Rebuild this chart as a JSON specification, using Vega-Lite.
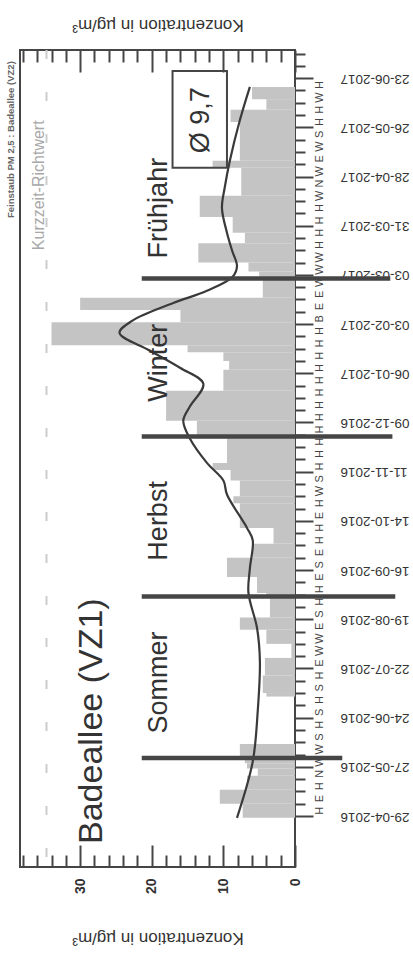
{
  "$schema": "https://vega.github.io/schema/vega-lite/v6.json",
  "width": 275,
  "height": 817,
  "autosize": {"type": "none"},
  "padding": {"left": 20, "top": 50, "right": 118, "bottom": 99},
  "background": "white",
  "config": {
    "font": "Liberation Sans",
    "view": {"stroke": "#454545", "strokeWidth": 2},
    "axis": {"domain": false, "grid": false, "tickColor": "#454545", "tickWidth": 2, "labelColor": "#333333", "titleColor": "#333333"}
  },
  "resolve": {"axis": {"x": "independent", "y": "independent"}},
  "layer": [
    {
      "data": {"values": [{"d": "2016-03-31", "v": 34.7}, {"d": "2017-07-09", "v": 34.7}]},
      "mark": {"type": "line", "color": "#cccccc", "strokeWidth": 2, "strokeDash": [9, 33]},
      "encoding": {
        "x": {"field": "v", "type": "quantitative", "scale": {"domain": [0, 38.4], "reverse": true, "nice": false, "zero": false}, "axis": null},
        "y": {"field": "d", "type": "temporal", "scale": {"domain": [{"year": 2016, "month": 3, "date": 31, "utc": true}, {"year": 2017, "month": 7, "date": 9, "utc": true}], "nice": false}, "axis": null}
      }
    },
    {
      "data": {"values": [
        {"d": "2016-04-28", "e": "2016-05-06", "v": 7.3},
        {"d": "2016-05-06", "e": "2016-05-14", "v": 10.5},
        {"d": "2016-05-14", "e": "2016-05-22", "v": 6.7},
        {"d": "2016-05-22", "e": "2016-05-26", "v": 5.2},
        {"d": "2016-05-26", "e": "2016-05-29", "v": 6.7},
        {"d": "2016-05-29", "e": "2016-06-01", "v": 7},
        {"d": "2016-06-01", "e": "2016-06-09", "v": 7.7},
        {"d": "2016-07-06", "e": "2016-07-08", "v": 4},
        {"d": "2016-07-08", "e": "2016-07-18", "v": 4.5},
        {"d": "2016-07-18", "e": "2016-07-28", "v": 4.2},
        {"d": "2016-07-28", "e": "2016-08-05", "v": 0.5},
        {"d": "2016-08-05", "e": "2016-08-13", "v": 4},
        {"d": "2016-08-13", "e": "2016-08-20", "v": 7.7},
        {"d": "2016-08-20", "e": "2016-09-01", "v": 3.5},
        {"d": "2016-09-01", "e": "2016-09-03", "v": 4},
        {"d": "2016-09-03", "e": "2016-09-12", "v": 5.3},
        {"d": "2016-09-12", "e": "2016-09-23", "v": 9.5},
        {"d": "2016-09-23", "e": "2016-10-01", "v": 5.9},
        {"d": "2016-10-01", "e": "2016-10-10", "v": 3},
        {"d": "2016-10-10", "e": "2016-10-24", "v": 7.7},
        {"d": "2016-10-24", "e": "2016-10-28", "v": 8.6},
        {"d": "2016-10-28", "e": "2016-11-06", "v": 7.7},
        {"d": "2016-11-06", "e": "2016-11-12", "v": 9},
        {"d": "2016-11-12", "e": "2016-11-16", "v": 11.5},
        {"d": "2016-11-16", "e": "2016-11-30", "v": 9.5},
        {"d": "2016-11-30", "e": "2016-12-10", "v": 13.7},
        {"d": "2016-12-10", "e": "2016-12-27", "v": 18},
        {"d": "2016-12-27", "e": "2017-01-08", "v": 10},
        {"d": "2017-01-08", "e": "2017-01-13", "v": 9.2},
        {"d": "2017-01-13", "e": "2017-01-18", "v": 10},
        {"d": "2017-01-18", "e": "2017-01-22", "v": 15},
        {"d": "2017-01-22", "e": "2017-02-04", "v": 34},
        {"d": "2017-02-04", "e": "2017-02-11", "v": 16},
        {"d": "2017-02-11", "e": "2017-02-18", "v": 30},
        {"d": "2017-02-18", "e": "2017-03-02", "v": 4.5},
        {"d": "2017-03-02", "e": "2017-03-05", "v": 5},
        {"d": "2017-03-05", "e": "2017-03-10", "v": 6.5},
        {"d": "2017-03-10", "e": "2017-03-21", "v": 13.5},
        {"d": "2017-03-21", "e": "2017-03-27", "v": 7},
        {"d": "2017-03-27", "e": "2017-04-05", "v": 8.7},
        {"d": "2017-04-05", "e": "2017-04-17", "v": 13.3},
        {"d": "2017-04-17", "e": "2017-05-03", "v": 7.5},
        {"d": "2017-05-03", "e": "2017-05-07", "v": 11.5},
        {"d": "2017-05-07", "e": "2017-05-29", "v": 7.7},
        {"d": "2017-05-29", "e": "2017-06-05", "v": 9},
        {"d": "2017-06-05", "e": "2017-06-11", "v": 4},
        {"d": "2017-06-11", "e": "2017-06-18", "v": 6}
      ]},
      "mark": {"type": "rect", "color": "#c4c4c4"},
      "encoding": {
        "x": {"field": "v", "type": "quantitative", "scale": {"domain": [0, 38.4], "reverse": true, "nice": false, "zero": false},
          "axis": {
            "orient": "bottom",
            "values": [0, 2, 4, 6, 8, 10, 12, 14, 16, 18, 20, 22, 24, 26, 28, 30, 32, 34, 36, 38],
            "labelExpr": "datum.value % 10 === 0 ? datum.label : ''",
            "tickSize": {"condition": {"test": "datum.value % 10 === 0", "value": -22}, "value": -12},
            "labelAngle": 270, "labelAlign": "right", "labelBaseline": "middle",
            "labelPadding": 33, "labelFontSize": 14, "labelFontWeight": "bold", "labelOverlap": false,
            "title": "Konzentration in µg/m³", "titleAngle": 180, "titleBaseline": "bottom",
            "titlePadding": 35, "titleFontSize": 17, "titleFontWeight": "normal"
          }
        },
        "x2": {"datum": 0},
        "y": {"field": "d", "type": "temporal", "scale": {"domain": [{"year": 2016, "month": 3, "date": 31, "utc": true}, {"year": 2017, "month": 7, "date": 9, "utc": true}], "nice": false},
          "axis": {
            "orient": "right",
            "values": [
              {"year": 2016, "month": 4, "date": 29, "utc": true}, {"year": 2016, "month": 5, "date": 6, "utc": true}, {"year": 2016, "month": 5, "date": 13, "utc": true}, {"year": 2016, "month": 5, "date": 20, "utc": true},
              {"year": 2016, "month": 5, "date": 27, "utc": true}, {"year": 2016, "month": 6, "date": 3, "utc": true}, {"year": 2016, "month": 6, "date": 10, "utc": true}, {"year": 2016, "month": 6, "date": 17, "utc": true},
              {"year": 2016, "month": 6, "date": 24, "utc": true}, {"year": 2016, "month": 7, "date": 1, "utc": true}, {"year": 2016, "month": 7, "date": 8, "utc": true}, {"year": 2016, "month": 7, "date": 15, "utc": true},
              {"year": 2016, "month": 7, "date": 22, "utc": true}, {"year": 2016, "month": 7, "date": 29, "utc": true}, {"year": 2016, "month": 8, "date": 5, "utc": true}, {"year": 2016, "month": 8, "date": 12, "utc": true},
              {"year": 2016, "month": 8, "date": 19, "utc": true}, {"year": 2016, "month": 8, "date": 26, "utc": true}, {"year": 2016, "month": 9, "date": 2, "utc": true}, {"year": 2016, "month": 9, "date": 9, "utc": true},
              {"year": 2016, "month": 9, "date": 16, "utc": true}, {"year": 2016, "month": 9, "date": 23, "utc": true}, {"year": 2016, "month": 9, "date": 30, "utc": true}, {"year": 2016, "month": 10, "date": 7, "utc": true},
              {"year": 2016, "month": 10, "date": 14, "utc": true}, {"year": 2016, "month": 10, "date": 21, "utc": true}, {"year": 2016, "month": 10, "date": 28, "utc": true}, {"year": 2016, "month": 11, "date": 4, "utc": true},
              {"year": 2016, "month": 11, "date": 11, "utc": true}, {"year": 2016, "month": 11, "date": 18, "utc": true}, {"year": 2016, "month": 11, "date": 25, "utc": true}, {"year": 2016, "month": 12, "date": 2, "utc": true},
              {"year": 2016, "month": 12, "date": 9, "utc": true}, {"year": 2016, "month": 12, "date": 16, "utc": true}, {"year": 2016, "month": 12, "date": 23, "utc": true}, {"year": 2016, "month": 12, "date": 30, "utc": true},
              {"year": 2017, "month": 1, "date": 6, "utc": true}, {"year": 2017, "month": 1, "date": 13, "utc": true}, {"year": 2017, "month": 1, "date": 20, "utc": true}, {"year": 2017, "month": 1, "date": 27, "utc": true},
              {"year": 2017, "month": 2, "date": 3, "utc": true}, {"year": 2017, "month": 2, "date": 10, "utc": true}, {"year": 2017, "month": 2, "date": 17, "utc": true}, {"year": 2017, "month": 2, "date": 24, "utc": true},
              {"year": 2017, "month": 3, "date": 3, "utc": true}, {"year": 2017, "month": 3, "date": 10, "utc": true}, {"year": 2017, "month": 3, "date": 17, "utc": true}, {"year": 2017, "month": 3, "date": 24, "utc": true},
              {"year": 2017, "month": 3, "date": 31, "utc": true}, {"year": 2017, "month": 4, "date": 7, "utc": true}, {"year": 2017, "month": 4, "date": 14, "utc": true}, {"year": 2017, "month": 4, "date": 21, "utc": true},
              {"year": 2017, "month": 4, "date": 28, "utc": true}, {"year": 2017, "month": 5, "date": 5, "utc": true}, {"year": 2017, "month": 5, "date": 12, "utc": true}, {"year": 2017, "month": 5, "date": 19, "utc": true},
              {"year": 2017, "month": 5, "date": 26, "utc": true}, {"year": 2017, "month": 6, "date": 2, "utc": true}, {"year": 2017, "month": 6, "date": 9, "utc": true}, {"year": 2017, "month": 6, "date": 16, "utc": true},
              {"year": 2017, "month": 6, "date": 23, "utc": true}, {"year": 2017, "month": 6, "date": 30, "utc": true}, {"year": 2017, "month": 7, "date": 7, "utc": true}
            ],
            "labelExpr": "round((datum.value - utc(2016,3,29)) / 604800000) % 4 === 0 ? utcFormat(datum.value, '%d-%m-%Y') : ''",
            "tickSize": {"condition": {"test": "round((datum.value - utc(2016,3,29)) / 604800000) % 4 === 0", "value": 18}, "value": 10},
            "labelAngle": 180, "labelAlign": "right", "labelBaseline": "middle",
            "labelPadding": 27, "labelFontSize": 13.5, "labelOverlap": false, "labelBound": false,
            "title": null
          }
        },
        "y2": {"field": "e"}
      }
    },
    {
      "data": {"values": [
        {"d": "2016-04-28", "v": 8.1}, {"d": "2016-05-30", "v": 5.9}, {"d": "2016-06-28", "v": 5.2}, {"d": "2016-07-26", "v": 4.9},
        {"d": "2016-08-14", "v": 5.3}, {"d": "2016-09-03", "v": 6.5}, {"d": "2016-09-17", "v": 6.3}, {"d": "2016-10-03", "v": 5.9},
        {"d": "2016-10-10", "v": 6.7}, {"d": "2016-10-29", "v": 9.5}, {"d": "2016-11-06", "v": 10}, {"d": "2016-11-16", "v": 12.3},
        {"d": "2016-11-30", "v": 14.7}, {"d": "2016-12-10", "v": 15.6}, {"d": "2016-12-18", "v": 14.7}, {"d": "2016-12-31", "v": 12.8},
        {"d": "2017-01-09", "v": 16}, {"d": "2017-01-19", "v": 20.3}, {"d": "2017-01-29", "v": 24.5}, {"d": "2017-02-05", "v": 22.7},
        {"d": "2017-02-15", "v": 17}, {"d": "2017-02-22", "v": 12.3}, {"d": "2017-03-02", "v": 8.7}, {"d": "2017-03-08", "v": 8.1},
        {"d": "2017-03-17", "v": 8.8}, {"d": "2017-03-27", "v": 9.5}, {"d": "2017-04-10", "v": 10.2}, {"d": "2017-04-22", "v": 9.8},
        {"d": "2017-05-07", "v": 9.1}, {"d": "2017-05-30", "v": 7.7}, {"d": "2017-06-18", "v": 6.3}
      ]},
      "mark": {"type": "line", "color": "#3a3a3a", "strokeWidth": 2.2, "interpolate": "catmull-rom"},
      "encoding": {
        "x": {"field": "v", "type": "quantitative", "scale": {"domain": [0, 38.4], "reverse": true, "nice": false, "zero": false},
          "axis": {
            "orient": "top",
            "values": [0, 2, 4, 6, 8, 10, 12, 14, 16, 18, 20, 22, 24, 26, 28, 30, 32, 34, 36, 38],
            "labels": false,
            "tickSize": {"condition": {"test": "datum.value % 10 === 0", "value": -22}, "value": -12},
            "title": "Konzentration in µg/m³", "titleAngle": 180, "titleBaseline": "top",
            "titlePadding": 17, "titleFontSize": 17, "titleFontWeight": "normal"
          }
        },
        "y": {"field": "d", "type": "temporal", "scale": {"domain": [{"year": 2016, "month": 3, "date": 31, "utc": true}, {"year": 2017, "month": 7, "date": 9, "utc": true}], "nice": false}, "axis": null},
        "order": {"field": "d", "type": "temporal"}
      }
    },
    {
      "data": {"values": [
        {"d": "2016-06-01", "v": 21.4, "b": -6.6},
        {"d": "2016-09-01", "v": 21.4, "b": -14},
        {"d": "2016-12-01", "v": 21.4, "b": -13.6},
        {"d": "2017-03-01", "v": 21.4, "b": -13.3}
      ]},
      "mark": {"type": "rule", "color": "#454545", "strokeWidth": 4.5},
      "encoding": {
        "x": {"field": "v", "type": "quantitative", "scale": {"domain": [0, 38.4], "reverse": true, "nice": false, "zero": false}, "axis": null},
        "x2": {"field": "b"},
        "y": {"field": "d", "type": "temporal", "scale": {"domain": [{"year": 2016, "month": 3, "date": 31, "utc": true}, {"year": 2017, "month": 7, "date": 9, "utc": true}], "nice": false}, "axis": null}
      }
    },
    {
      "data": {"values": [{"d": "2017-05-03", "e": "2017-06-27", "v": 17.1, "w": 9.5}]},
      "mark": {"type": "rect", "fillOpacity": 0, "stroke": "#454545", "strokeWidth": 2},
      "encoding": {
        "x": {"field": "v", "type": "quantitative", "scale": {"domain": [0, 38.4], "reverse": true, "nice": false, "zero": false}, "axis": null},
        "x2": {"field": "w"},
        "y": {"field": "d", "type": "temporal", "scale": {"domain": [{"year": 2016, "month": 3, "date": 31, "utc": true}, {"year": 2017, "month": 7, "date": 9, "utc": true}], "nice": false}, "axis": null},
        "y2": {"field": "e"}
      }
    },
    {
      "data": {"values": [
        {"d": "2016-07-14", "v": 19, "t": "Sommer"},
        {"d": "2016-10-14", "v": 19, "t": "Herbst"},
        {"d": "2017-01-12", "v": 19, "t": "Winter"},
        {"d": "2017-04-10", "v": 19, "t": "Frühjahr"},
        {"d": "2017-05-30", "v": 13.1, "t": "Ø 9,7"}
      ]},
      "mark": {"type": "text", "angle": 270, "fontSize": 27, "color": "#333333", "align": "center", "baseline": "middle"},
      "encoding": {
        "x": {"field": "v", "type": "quantitative", "scale": {"domain": [0, 38.4], "reverse": true, "nice": false, "zero": false}, "axis": null},
        "y": {"field": "d", "type": "temporal", "scale": {"domain": [{"year": 2016, "month": 3, "date": 31, "utc": true}, {"year": 2017, "month": 7, "date": 9, "utc": true}], "nice": false}, "axis": null},
        "text": {"field": "t"}
      }
    },
    {
      "data": {"values": [{"d": "2016-06-22", "v": 28.4, "t": "Badeallee (VZ1)"}]},
      "mark": {"type": "text", "angle": 270, "fontSize": 34, "color": "#333333", "align": "center", "baseline": "middle"},
      "encoding": {
        "x": {"field": "v", "type": "quantitative", "scale": {"domain": [0, 38.4], "reverse": true, "nice": false, "zero": false}, "axis": null},
        "y": {"field": "d", "type": "temporal", "scale": {"domain": [{"year": 2016, "month": 3, "date": 31, "utc": true}, {"year": 2017, "month": 7, "date": 9, "utc": true}], "nice": false}, "axis": null},
        "text": {"field": "t"}
      }
    },
    {
      "data": {"values": [{"d": "2017-04-23", "v": 35.8, "t": "Kurzzeit-Richtwert"}]},
      "mark": {"type": "text", "angle": 270, "fontSize": 16, "color": "#a8a8a8", "align": "center", "baseline": "middle"},
      "encoding": {
        "x": {"field": "v", "type": "quantitative", "scale": {"domain": [0, 38.4], "reverse": true, "nice": false, "zero": false}, "axis": null},
        "y": {"field": "d", "type": "temporal", "scale": {"domain": [{"year": 2016, "month": 3, "date": 31, "utc": true}, {"year": 2017, "month": 7, "date": 9, "utc": true}], "nice": false}, "axis": null},
        "text": {"field": "t"}
      }
    },
    {
      "data": {"values": [{"d": "2017-05-19", "v": 39.7, "t": "Feinstaub PM 2,5 : Badeallee (VZ2)"}]},
      "mark": {"type": "text", "angle": 270, "fontSize": 9.5, "fontWeight": "bold", "color": "#666666", "align": "center", "baseline": "middle"},
      "encoding": {
        "x": {"field": "v", "type": "quantitative", "scale": {"domain": [0, 38.4], "reverse": true, "nice": false, "zero": false}, "axis": null},
        "y": {"field": "d", "type": "temporal", "scale": {"domain": [{"year": 2016, "month": 3, "date": 31, "utc": true}, {"year": 2017, "month": 7, "date": 9, "utc": true}], "nice": false}, "axis": null},
        "text": {"field": "t"}
      }
    },
    {
      "data": {"values": [
        {"d": "2016-05-02", "c": "H"}, {"d": "2016-05-09", "c": "E"}, {"d": "2016-05-16", "c": "H"}, {"d": "2016-05-23", "c": "N"},
        {"d": "2016-05-30", "c": "W"}, {"d": "2016-06-06", "c": "W"}, {"d": "2016-06-13", "c": "S"}, {"d": "2016-06-20", "c": "H"},
        {"d": "2016-06-27", "c": "S"}, {"d": "2016-07-04", "c": "H"}, {"d": "2016-07-11", "c": "S"}, {"d": "2016-07-18", "c": "H"},
        {"d": "2016-07-25", "c": "E"}, {"d": "2016-08-01", "c": "W"}, {"d": "2016-08-08", "c": "W"}, {"d": "2016-08-15", "c": "E"},
        {"d": "2016-08-22", "c": "S"}, {"d": "2016-08-29", "c": "H"}, {"d": "2016-09-05", "c": "H"}, {"d": "2016-09-12", "c": "E"},
        {"d": "2016-09-19", "c": "S"}, {"d": "2016-09-26", "c": "E"}, {"d": "2016-10-03", "c": "H"}, {"d": "2016-10-10", "c": "H"},
        {"d": "2016-10-17", "c": "E"}, {"d": "2016-10-24", "c": "H"}, {"d": "2016-10-31", "c": "W"}, {"d": "2016-11-07", "c": "S"},
        {"d": "2016-11-14", "c": "H"}, {"d": "2016-11-21", "c": "H"}, {"d": "2016-11-28", "c": "H"}, {"d": "2016-12-05", "c": "H"},
        {"d": "2016-12-12", "c": "H"}, {"d": "2016-12-19", "c": "H"}, {"d": "2016-12-26", "c": "H"}, {"d": "2017-01-02", "c": "H"},
        {"d": "2017-01-09", "c": "H"}, {"d": "2017-01-16", "c": "H"}, {"d": "2017-01-23", "c": "H"}, {"d": "2017-01-30", "c": "H"},
        {"d": "2017-02-06", "c": "B"}, {"d": "2017-02-13", "c": "E"}, {"d": "2017-02-20", "c": "E"}, {"d": "2017-02-27", "c": "W"},
        {"d": "2017-03-06", "c": "W"}, {"d": "2017-03-13", "c": "W"}, {"d": "2017-03-20", "c": "H"}, {"d": "2017-03-27", "c": "H"},
        {"d": "2017-04-03", "c": "H"}, {"d": "2017-04-10", "c": "H"}, {"d": "2017-04-17", "c": "W"}, {"d": "2017-04-24", "c": "N"},
        {"d": "2017-05-01", "c": "W"}, {"d": "2017-05-08", "c": "E"}, {"d": "2017-05-15", "c": "W"}, {"d": "2017-05-22", "c": "S"},
        {"d": "2017-05-29", "c": "H"}, {"d": "2017-06-05", "c": "H"}, {"d": "2017-06-12", "c": "W"}, {"d": "2017-06-19", "c": "H"}
      ]},
      "mark": {"type": "text", "angle": 270, "fontSize": 11, "color": "#444444", "align": "center", "baseline": "middle"},
      "encoding": {
        "x": {"datum": -3.5, "type": "quantitative", "scale": {"domain": [0, 38.4], "reverse": true, "nice": false, "zero": false}, "axis": null},
        "y": {"field": "d", "type": "temporal", "scale": {"domain": [{"year": 2016, "month": 3, "date": 31, "utc": true}, {"year": 2017, "month": 7, "date": 9, "utc": true}], "nice": false}, "axis": null},
        "text": {"field": "c"}
      }
    }
  ]
}
